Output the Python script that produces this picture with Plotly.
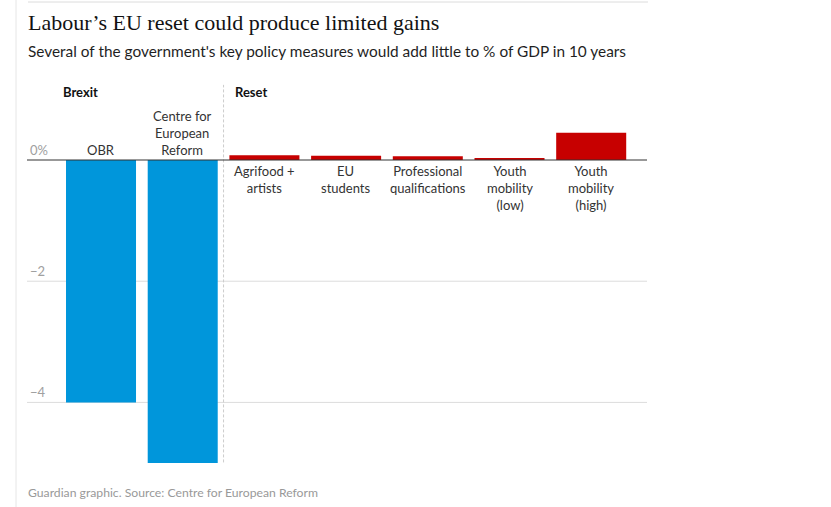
import plotly.graph_objects as go

categories = ["OBR", "Centre for<br>European<br>Reform", "Agrifood +<br>artists", "EU<br>students",
              "Professional<br>qualifications", "Youth<br>mobility<br>(low)", "Youth<br>mobility<br>(high)"]
values = [-4.0, -5.0, 0.08, 0.07, 0.06, 0.03, 0.45]
groups = ["Brexit", "Brexit", "Reset", "Reset", "Reset", "Reset", "Reset"]
y_ticks = [0, -2, -4]
y_tick_labels = ["0%", "−2", "−4"]

BLUE = "#0096db"
RED = "#c70000"
SANS = "Lato, 'Noto Sans', sans-serif"

xs = list(range(len(categories)))
colors = [BLUE if g == "Brexit" else RED for g in groups]

fig = go.Figure()
fig.add_trace(go.Bar(x=xs, y=values, marker=dict(color=colors, line=dict(width=0)),
                     width=0.857, hoverinfo="skip"))

# zero line and gridlines
for t in y_ticks:
    fig.add_shape(type="line", xref="paper", yref="y", x0=0, x1=1, y0=t, y1=t,
                  line=dict(color="#333333" if t == 0 else "#dcdcdc", width=1),
                  layer="above" if t == 0 else "below")
for t, lab in zip(y_ticks, y_tick_labels):
    fig.add_annotation(xref="paper", yref="y", x=0, y=t, text=lab, showarrow=False,
                       xanchor="left", yanchor="bottom", xshift=1, yshift=0,
                       font=dict(family=SANS, size=13, color="#a0a0a0"))

# category labels
for x, v, c in zip(xs, values, categories):
    if v < 0:
        fig.add_annotation(x=x, y=0, text=c, showarrow=False, xanchor="center",
                           yanchor="bottom", yshift=0,
                           font=dict(family=SANS, size=13, color="#333333"))
    else:
        fig.add_annotation(x=x, y=0, text=c, showarrow=False, xanchor="center",
                           yanchor="top", yshift=-1,
                           font=dict(family=SANS, size=13, color="#333333"))

# group separator and headers
fig.add_shape(type="line", xref="x", yref="y", x0=1.5, x1=1.5, y0=-4.99, y1=1.24,
              line=dict(color="#cccccc", width=1, dash="3px,2px"), layer="below")
fig.add_annotation(x=-0.5, y=1.12, text="<b>Brexit</b>", showarrow=False, xanchor="left",
                   yanchor="middle", xshift=1, font=dict(family=SANS, size=13, color="#121212"))
fig.add_annotation(x=1.5, y=1.12, text="<b>Reset</b>", showarrow=False, xanchor="left",
                   yanchor="middle", xshift=9, font=dict(family=SANS, size=13, color="#121212"))

# title, subtitle, source
fig.add_annotation(xref="paper", yref="paper", x=0, y=1, yshift=80 - 22,
                   text="Labour’s EU reset could produce limited gains",
                   showarrow=False, xanchor="left", yanchor="middle", xshift=-1,
                   font=dict(family="'Liberation Serif', serif", size=22, color="#121212"))
fig.add_annotation(xref="paper", yref="paper", x=0, y=1, yshift=80 - 51,
                   text="Several of the government's key policy measures would add little to % of GDP in 10 years",
                   showarrow=False, xanchor="left", yanchor="middle", xshift=-1,
                   font=dict(family=SANS, size=15.4, color="#1f1f1f"))
fig.add_annotation(xref="paper", yref="paper", x=0, y=0, yshift=-(492 - 470),
                   text="Guardian graphic. Source: Centre for European Reform",
                   showarrow=False, xanchor="left", yanchor="middle", xshift=-1,
                   font=dict(family=SANS, size=12.2, color="#999999"))

# frame lines of the page
fig.add_shape(type="line", xref="paper", yref="paper", x0=0.0016, x1=1.0016, y0=1.2, y1=1.2,
              line=dict(color="#dcdcdc", width=1))
fig.add_shape(type="line", xref="paper", yref="paper", x0=-0.0177, x1=-0.0177, y0=-0.1, y1=1.21,
              line=dict(color="#e6e6e6", width=1))

fig.update_layout(
    width=831, height=507,
    margin=dict(l=27, r=184, t=80, b=37),
    paper_bgcolor="white", plot_bgcolor="white",
    showlegend=False,
    xaxis=dict(range=[-0.906, 6.683], showticklabels=False, showgrid=False, zeroline=False,
               fixedrange=True),
    yaxis=dict(range=[-5.115, 1.32], showticklabels=False, showgrid=False, zeroline=False,
               fixedrange=True),
)
fig.write_html("out.html")
